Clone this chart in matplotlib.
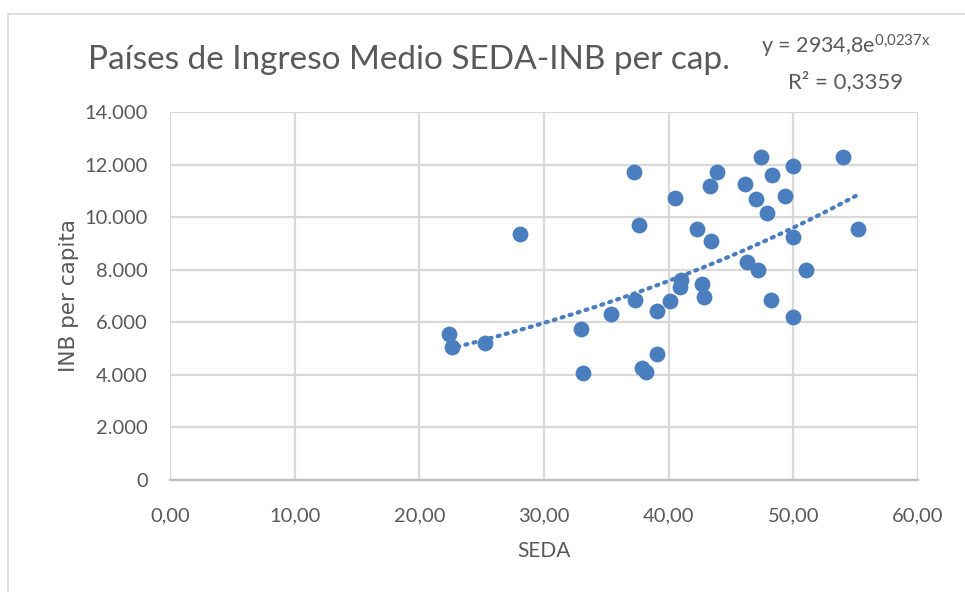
import numpy as np
import matplotlib
matplotlib.use("Agg")
import matplotlib.pyplot as plt
from matplotlib.patches import Rectangle
from matplotlib.ticker import FuncFormatter

# Data (SEDA vs INB per capita)
seda = [22.4, 22.6, 25.3, 28.1, 33.0, 33.1, 35.4, 37.2, 37.3, 37.6, 37.9, 38.2,
        39.1, 39.1, 40.1, 40.5, 41.0, 40.9, 42.3, 42.7, 42.8, 43.3, 43.4, 43.9,
        46.1, 46.3, 47.0, 47.2, 47.4, 47.9, 48.3, 48.2, 49.3, 50.0, 50.0, 50.0,
        51.0, 54.0, 55.2]
inb = [5550, 5060, 5210, 9360, 5740, 4070, 6310, 11720, 6850, 9700, 4260, 4110,
       4790, 6430, 6810, 10730, 7610, 7340, 9550, 7460, 6960, 11180, 9090, 11720,
       11260, 8290, 10690, 7990, 12290, 10160, 11600, 6850, 10800, 11940, 9240, 6200,
       7990, 12290, 9550]

trend_a = 2934.8
trend_b = 0.0237
r2 = 0.3359

xticks = [0, 10, 20, 30, 40, 50, 60]
yticks = [0, 2000, 4000, 6000, 8000, 10000, 12000, 14000]

title = "Países de Ingreso Medio SEDA-INB per cap."
xlabel = "SEDA"
ylabel = "INB per capita"

blue = "#4a7ebf"
txt = "#595959"
grid = "#d9d9d9"

plt.rcParams['font.family'] = ['Lato', 'DejaVu Sans']
plt.rcParams['mathtext.fontset'] = 'custom'
plt.rcParams['mathtext.rm'] = 'Lato'
plt.rcParams['mathtext.it'] = 'Lato'

fig = plt.figure(figsize=(9.65, 5.92), dpi=100)
fig.patches.append(Rectangle((8/965, -0.1), 1.2, 1.1 - 14/592, transform=fig.transFigure,
                             fill=False, edgecolor="#d9d9d9", linewidth=1.2))

ax = fig.add_axes([170/965, 1 - 480/592, 748/965, 368/592])
ax.set_xlim(0, 60)
ax.set_ylim(0, 14000)
ax.set_xticks(xticks)
ax.set_yticks(yticks)
ax.xaxis.set_major_formatter(FuncFormatter(lambda v, p: f"{v:.2f}".replace(".", ",")))
ax.yaxis.set_major_formatter(FuncFormatter(lambda v, p: f"{int(v):,}".replace(",", ".")))
ax.grid(True, color=grid, linewidth=1.6, zorder=0)
ax.set_axisbelow(True)
for s in ["top", "right", "left"]:
    ax.spines[s].set_visible(False)
ax.spines["bottom"].set_color("#bfbfbf")
ax.spines["bottom"].set_linewidth(1.6)
ax.tick_params(length=0, labelsize=14.5, labelcolor=txt)
ax.tick_params(axis='y', pad=16)
ax.tick_params(axis='x', pad=20)

ax.scatter(seda, inb, s=130, color=blue, zorder=3, linewidths=0)

xs = np.linspace(min(seda), max(seda), 200)
ax.plot(xs, trend_a * np.exp(trend_b * xs), linestyle=(0, (0.5, 1.5)), color=blue,
        linewidth=3, dash_capstyle='round', zorder=2)

ax.set_xlabel(xlabel, fontsize=15, color=txt, labelpad=12)
ax.set_ylabel(ylabel, fontsize=15.5, color=txt, family=['DejaVu Sans'], labelpad=4)

fig.text(88/965, 1 - 60/592, title, fontsize=24, color=txt, va='center', ha='left')
fig.text(846/965, 1 - 46/592, r"y = 2934,8e$^{\mathregular{0{,}0237x}}$", fontsize=15.5,
         color=txt, ha='center', va='center')
fig.text(846/965, 1 - 82/592, "R² = 0,3359", fontsize=16, color=txt, ha='center', va='center')

fig.savefig("out.png", dpi=100)
